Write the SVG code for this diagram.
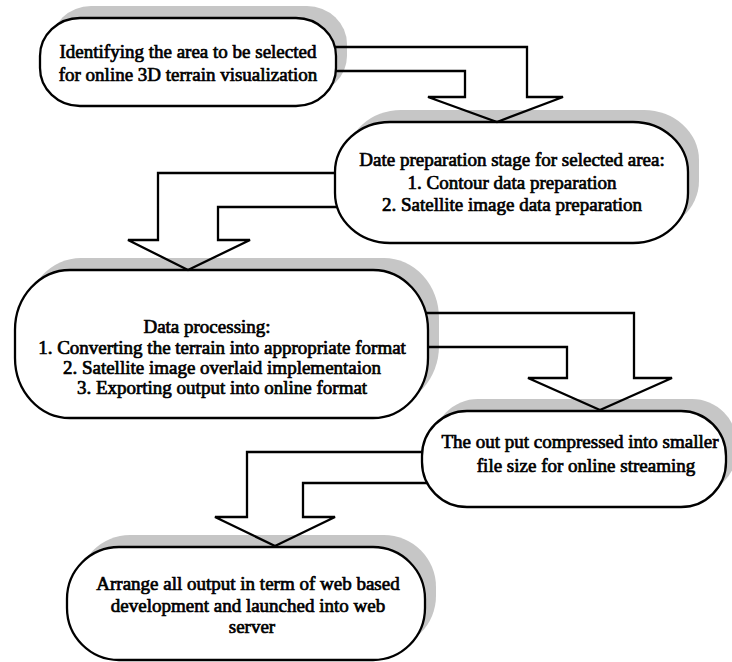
<svg xmlns="http://www.w3.org/2000/svg" width="732" height="662" viewBox="0 0 732 662">
<style>
.shadow{fill:#c6c6c6;stroke:none}
.box{fill:#ffffff;stroke:#000000;stroke-width:2.3}
.conn{fill:none;stroke:#000000;stroke-width:2.3;stroke-linejoin:miter}
text{font-family:"Liberation Serif","Times New Roman",serif;font-size:19px;fill:#000000;stroke:#000000;stroke-width:0.7;text-anchor:middle}
</style>
<rect x="0" y="0" width="732" height="662" fill="#ffffff"/>

<g id="shadows">
<rect class="shadow" fill="#c6c6c6" x="51" y="6" width="296" height="88" rx="40" ry="38"/>
<rect class="shadow" fill="#c6c6c6" x="346" y="110" width="353" height="121" rx="55" ry="50"/>
<rect class="shadow" fill="#c6c6c6" x="26" y="258" width="413" height="148" rx="55" ry="60"/>
<rect class="shadow" fill="#c6c6c6" x="433" y="399" width="304" height="96" rx="45" ry="45"/>
<rect class="shadow" fill="#c6c6c6" x="78" y="535" width="358" height="113" rx="52" ry="52"/>
</g>

<g id="node1">
<rect class="box" x="40" y="18" width="296" height="88" rx="40" ry="38"/>
<text x="188" y="58">Identifying the area to be selected</text>
<text x="188" y="81">for online 3D terrain visualization</text>
</g>

<g id="node2">
<rect class="box" x="335" y="122" width="353" height="121" rx="55" ry="50"/>
<text x="512" y="166">Date preparation stage for selected area:</text>
<text x="512" y="189">1. Contour data preparation</text>
<text x="512" y="211">2. Satellite image data preparation</text>
</g>

<g id="node3">
<rect class="box" x="15" y="270" width="413" height="148" rx="55" ry="60"/>
<text x="207" y="333">Data processing:</text>
<text x="222" y="354">1. Converting the terrain into appropriate format</text>
<text x="222" y="374">2. Satellite image overlaid implementaion</text>
<text x="222" y="394">3. Exporting output into online format</text>
</g>

<g id="node4">
<rect class="box" x="422" y="411" width="304" height="96" rx="45" ry="45"/>
<text x="580" y="448">The out put compressed into smaller</text>
<text x="586" y="472">file size for online streaming</text>
</g>

<g id="node5">
<rect class="box" x="67" y="547" width="358" height="113" rx="52" ry="52"/>
<text x="248" y="590">Arrange all output in term of web based</text>
<text x="248" y="612">development and launched into web</text>
<text x="252" y="633">server</text>
</g>

<g id="connectors">
<path class="conn" d="M335,47 H527 V97 H563 L497,122 L428,97 H465 V71 H336"/>
<path class="conn" d="M335,173 H158 V240 H128 L188,270 L250,240 H218 V207 H337"/>
<path class="conn" d="M425.5,313 H634 V378 H672 L600,410 L528,378 H567 V347 H428"/>
<path class="conn" d="M422,452 H247 V517 H215 L275,546 L335,517 H303 V483 H427"/>
</g>
</svg>
